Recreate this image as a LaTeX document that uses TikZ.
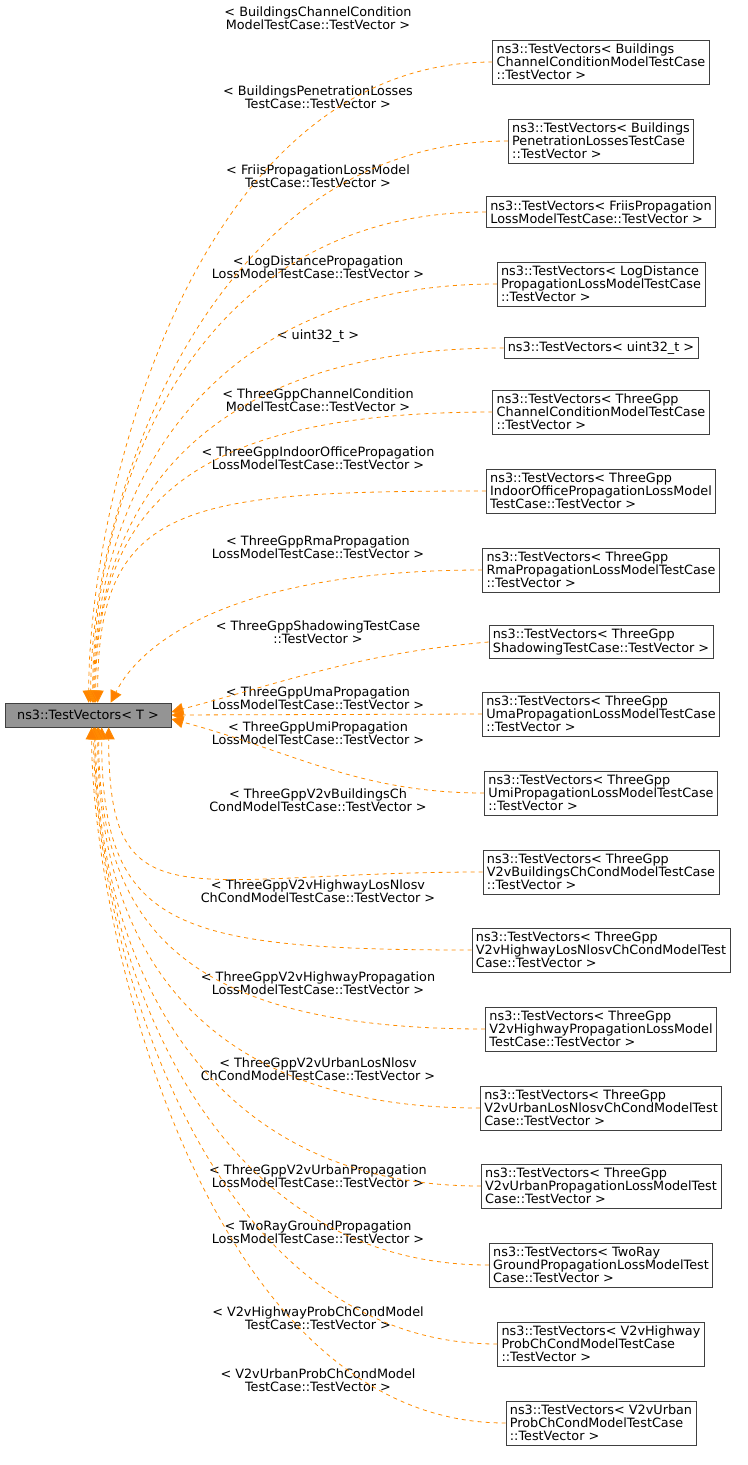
\documentclass[tikz,border=0pt]{standalone}
\usepackage{fontspec}
\setmainfont{DejaVu Sans}
\usetikzlibrary{arrows.meta,calc}

\begin{document}
\begin{tikzpicture}[
    x=0.75pt, y=-0.75pt,
    font=\fontsize{9.6pt}{9.9pt}\selectfont,
    cls/.style={
        draw=black!75,
        line width=0.5pt,
        align=left,
        inner sep=3pt,
      },
    base/.style={
        cls,
        fill=black!42,
        minimum width=166*0.75pt,
        minimum height=24*0.75pt,
      },
    lbl/.style={align=center, inner sep=0pt},
    inh/.style={
        draw=orange!90!yellow,
        dashed,
        line width=0.6pt,
        -{Triangle[length=9pt,width=9pt,fill=orange]},
      },
  ]
  \useasboundingbox (0,0) rectangle (747,1465);
  \node[base] (base) at (88,715) {ns3::TestVectors< T >};
  % derived template instances
  \foreach \Id/\Y/\Text in {
      1/62/{ns3::TestVectors< Buildings\\ChannelConditionModelTestCase\\::TestVector >},
      2/141/{ns3::TestVectors< Buildings\\PenetrationLossesTestCase\\::TestVector >},
      3/212/{ns3::TestVectors< FriisPropagation\\LossModelTestCase::TestVector >},
      4/284/{ns3::TestVectors< LogDistance\\PropagationLossModelTestCase\\::TestVector >},
      5/348/{ns3::TestVectors< uint32\_t >},
      6/412/{ns3::TestVectors< ThreeGpp\\ChannelConditionModelTestCase\\::TestVector >},
      7/491/{ns3::TestVectors< ThreeGpp\\IndoorOfficePropagationLossModel\\TestCase::TestVector >},
      8/570/{ns3::TestVectors< ThreeGpp\\RmaPropagationLossModelTestCase\\::TestVector >},
      9/642/{ns3::TestVectors< ThreeGpp\\ShadowingTestCase::TestVector >},
      10/714/{ns3::TestVectors< ThreeGpp\\UmaPropagationLossModelTestCase\\::TestVector >},
      11/793/{ns3::TestVectors< ThreeGpp\\UmiPropagationLossModelTestCase\\::TestVector >},
      12/872/{ns3::TestVectors< ThreeGpp\\V2vBuildingsChCondModelTestCase\\::TestVector >},
      13/950/{ns3::TestVectors< ThreeGpp\\V2vHighwayLosNlosvChCondModelTest\\Case::TestVector >},
      14/1029/{ns3::TestVectors< ThreeGpp\\V2vHighwayPropagationLossModel\\TestCase::TestVector >},
      15/1108/{ns3::TestVectors< ThreeGpp\\V2vUrbanLosNlosvChCondModelTest\\Case::TestVector >},
      16/1186/{ns3::TestVectors< ThreeGpp\\V2vUrbanPropagationLossModelTest\\Case::TestVector >},
      17/1265/{ns3::TestVectors< TwoRay\\GroundPropagationLossModelTest\\Case::TestVector >},
      18/1344/{ns3::TestVectors< V2vHighway\\ProbChCondModelTestCase\\::TestVector >},
      19/1423/{ns3::TestVectors< V2vUrban\\ProbChCondModelTestCase\\::TestVector >}}
    \node[cls] (t\Id) at (601,\Y) {\Text};
  % template argument labels
  \foreach \Id/\Y/\Text in {
      1/18/{< BuildingsChannelCondition\\ModelTestCase::TestVector >},
      2/97/{< BuildingsPenetrationLosses\\TestCase::TestVector >},
      3/176/{< FriisPropagationLossModel\\TestCase::TestVector >},
      4/267/{< LogDistancePropagation\\LossModelTestCase::TestVector >},
      5/336/{< uint32\_t >},
      6/400/{< ThreeGppChannelCondition\\ModelTestCase::TestVector >},
      7/458/{< ThreeGppIndoorOfficePropagation\\LossModelTestCase::TestVector >},
      8/547/{< ThreeGppRmaPropagation\\LossModelTestCase::TestVector >},
      9/632/{< ThreeGppShadowingTestCase\\::TestVector >},
      10/698/{< ThreeGppUmaPropagation\\LossModelTestCase::TestVector >},
      11/733/{< ThreeGppUmiPropagation\\LossModelTestCase::TestVector >},
      12/800/{< ThreeGppV2vBuildingsCh\\CondModelTestCase::TestVector >},
      13/891/{< ThreeGppV2vHighwayLosNlosv\\ChCondModelTestCase::TestVector >},
      14/983/{< ThreeGppV2vHighwayPropagation\\LossModelTestCase::TestVector >},
      15/1069/{< ThreeGppV2vUrbanLosNlosv\\ChCondModelTestCase::TestVector >},
      16/1176/{< ThreeGppV2vUrbanPropagation\\LossModelTestCase::TestVector >},
      17/1232/{< TwoRayGroundPropagation\\LossModelTestCase::TestVector >},
      18/1318/{< V2vHighwayProbChCondModel\\TestCase::TestVector >},
      19/1380/{< V2vUrbanProbChCondModel\\TestCase::TestVector >}}
    \node[lbl] (l\Id) at (318,\Y) {\Text};
  % inheritance edges, arrow at the template
  \foreach \Id/\Ex in {1/84,2/86,3/88,4/89,5/90,6/91,7/93}
    \draw[inh] (t\Id.west) .. controls +(-300,0) and +(0,-200) ..
      ($(base.north west)+(\Ex,0)$);
  \draw[inh] (t8.west) .. controls +(-250,0) and +(30,-60) .. ($(base.north west)+(106,0)$);
  \draw[inh] (t9.west) to[out=185,in=15] ($(base.east)+(0,-3)$);
  \draw[inh] (t10.west) -- (base.east);
  \draw[inh] (t11.west) to[out=180,in=-15] ($(base.east)+(0,4)$);
  \foreach \Id/\Ex in {12/104,13/97,14/94,15/93,16/91,17/90,18/89,19/87}
    \draw[inh] (t\Id.west) .. controls +(-300,0) and +(0,200) ..
      ($(base.south west)+(\Ex,0)$);
\end{tikzpicture}
\end{document}
